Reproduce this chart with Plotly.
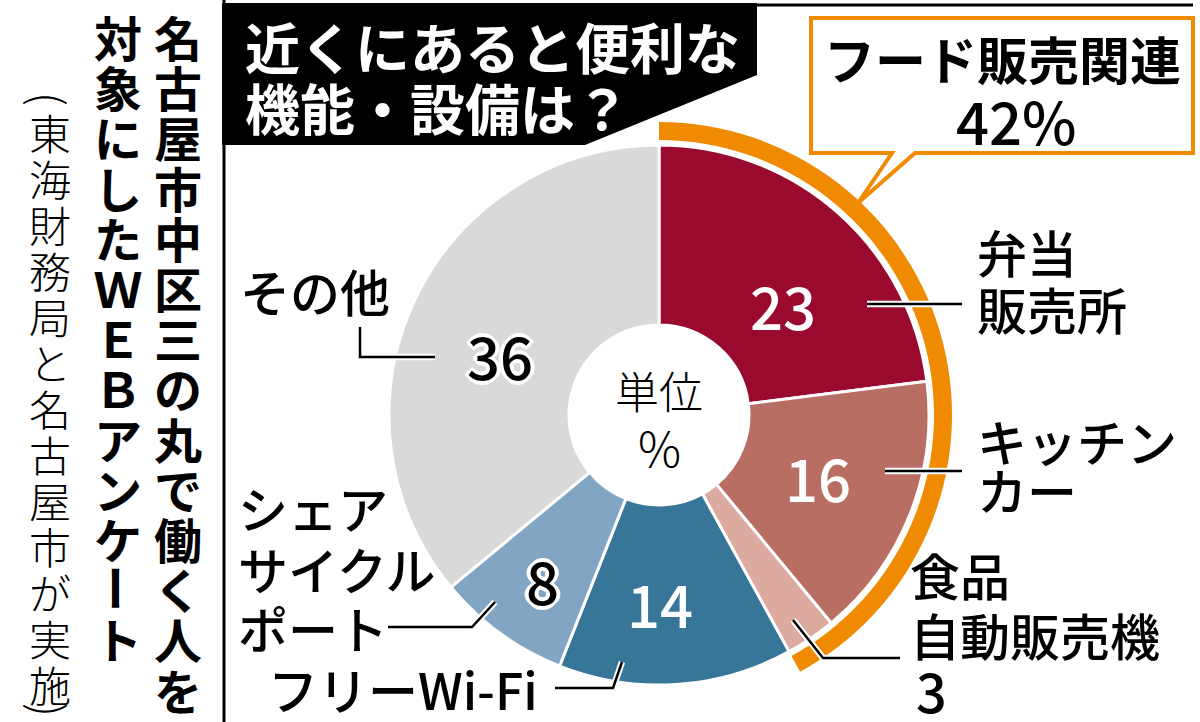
import plotly.graph_objects as go

# ---------------- data ----------------
categories = ["弁当販売所", "キッチンカー", "食品自動販売機", "フリーWi-Fi", "シェアサイクルポート", "その他"]
values = [23, 16, 3, 14, 8, 36]
colors = ["#9a0a2f", "#b86e63", "#dcaa9e", "#377599", "#81a5c2", "#d9d9d9"]
food_idx = [0, 1, 2]
food_label = "フード販売関連"
title_lines = ["近くにあると便利な", "機能・設備は？"]
unit_lines = ["単位", "%"]
note_col1 = "名古屋市中区三の丸で働く人を"
note_col2 = "対象にしたＷＥＢアンケート"
note_col3 = "(東海財務局と名古屋市が実施)"

food_total = sum(values[i] for i in food_idx)

W, H = 1200, 722
FONT = "Noto Sans CJK JP"
CX, CY, R = 659, 415, 270
R_HOLE = 90
R_O1, R_O2 = 275, 293

def dom(r):
    return dict(x=[(CX - r) / W, (CX + r) / W],
                y=[(H - CY - r) / H, (H - CY + r) / H])

fig = go.Figure()

# main donut
fig.add_trace(go.Pie(
    values=values, labels=categories, sort=False, direction="clockwise", rotation=0,
    hole=R_HOLE / R, domain=dom(R), textinfo="none", hoverinfo="label+value",
    marker=dict(colors=colors, line=dict(color="white", width=3)), showlegend=False,
))
# orange arc for food-related total
fig.add_trace(go.Pie(
    values=[food_total, sum(values) - food_total], labels=[food_label, ""], sort=False,
    direction="clockwise", rotation=0, hole=R_O1 / R_O2, domain=dom(R_O2), textinfo="none",
    hoverinfo="skip",
    marker=dict(colors=["#f08a00", "rgba(0,0,0,0)"], line=dict(width=0)), showlegend=False,
))

shapes = []
annotations = []

def ann(x, y, text, size, color="black", weight=400, xanchor="center", angle=0, shadow=None):
    f = dict(family=FONT, size=size, color=color, weight=weight)
    if shadow:
        f["shadow"] = shadow
    annotations.append(dict(x=x, y=y, xref="x", yref="y", text=text, showarrow=False,
                            xanchor=xanchor, yanchor="middle", font=f, textangle=angle))

def line(pts, width=2.5):
    path = "M " + " L ".join(f"{x},{y}" for x, y in pts)
    shapes.append(dict(type="path", path=path, xref="x", yref="y",
                       line=dict(color="white", width=width + 4), layer="above"))
    shapes.append(dict(type="path", path=path, xref="x", yref="y",
                       line=dict(color="black", width=width), layer="above"))

# frame
shapes.append(dict(type="line", x0=224, x1=224, y0=0, y1=H, xref="x", yref="y",
                   line=dict(color="black", width=3)))
shapes.append(dict(type="line", x0=224, x1=1193, y0=5, y1=5, xref="x", yref="y",
                   line=dict(color="black", width=3)))
# black title box
shapes.append(dict(type="path", path="M 222,3 L 757,3 L 757,75 L 585,145 L 222,145 Z",
                   xref="x", yref="y", fillcolor="black", line=dict(width=0)))
ann(243, 45, title_lines[0], 55, "white", 700, "left")
ann(243, 106, title_lines[1], 55, "white", 700, "left")

# callout box
shapes.append(dict(type="path",
                   path="M 892,153 L 811,153 L 811,18 L 1193,18 L 1193,153 L 915,153 L 858,203 Z",
                   xref="x", yref="y", fillcolor="white", line=dict(color="#f08a00", width=4)))
ann(1002, 58, food_label, 51, "black", 700)
ann(1016, 120, f"{food_total}%", 58, "black", 500)

# unit in hole
ann(CX, 390, unit_lines[0], 44, "black", 300)
ann(CX, 446, unit_lines[1], 48, "black", 300)

halo = ", ".join(f"white {dx}px {dy}px 0" for dx, dy in
                 [(3, 0), (-3, 0), (0, 3), (0, -3), (2, 2), (-2, -2), (2, -2), (-2, 2),
                  (4, 0), (-4, 0), (0, 4), (0, -4)])

# slice values
ann(783, 305, str(values[0]), 58, "white", 500)
ann(818, 477, str(values[1]), 58, "white", 500)
ann(660, 603, str(values[3]), 58, "white", 500)
ann(542, 580, str(values[4]), 58, "black", 500, shadow=halo)
ann(500, 355, str(values[5]), 58, "black", 500, shadow=halo)
ann(931, 689, str(values[2]), 54, "black", 500)

# category labels
ann(975, 251, "弁当", 50, "black", 500, "left")
ann(975, 308, "販売所", 50, "black", 500, "left")
ann(975, 440, "キッチン", 50, "black", 500, "left")
ann(975, 489, "カー", 50, "black", 500, "left")
ann(908, 574, "食品", 50, "black", 500, "left")
ann(908, 634, "自動販売機", 50, "black", 500, "left")
ann(540, 688, "フリーWi-Fi", 50, "black", 500, "right")
ann(236, 507, "シェア", 50, "black", 500, "left")
ann(236, 568, "サイクル", 50, "black", 500, "left")
ann(236, 627, "ポート", 50, "black", 500, "left")
ann(238, 290, "その他", 50, "black", 500, "left")

# leader lines
line([(867, 304), (962, 304)])
line([(885, 471), (962, 471)])
line([(793, 620), (823, 658), (900, 658)])
line([(622, 662), (613, 688), (555, 688)])
line([(495, 602), (472, 627), (388, 627)])
line([(360, 327), (360, 357), (435, 357)])

dots_x = [867, 885, 793, 622, 495, 435]
dots_y = [304, 471, 620, 662, 602, 357]
fig.add_trace(go.Scatter(x=dots_x, y=dots_y, mode="markers", hoverinfo="skip", showlegend=False,
                         marker=dict(size=13, color="black", line=dict(color="white", width=3))))

# vertical notes
def vcol(text, x, y0, step, size, weight):
    for i, ch in enumerate(text):
        ang = 90 if ch in "ー" else 0
        ann(x, y0 + i * step, ch, size, "black", weight, "center", ang)

vcol(note_col1, 178, 36, 50.2, 48, 700)
vcol(note_col2, 118, 36, 50.2, 48, 700)
vcol(note_col3[1:-1], 50, 131, 46, 42, 300)
ann(50, 99, note_col3[0], 44, "black", 300, "center", 90)
ann(50, 710, note_col3[-1], 44, "black", 300, "center", 90)

fig.update_layout(
    width=W, height=H, margin=dict(l=0, r=0, t=0, b=0),
    paper_bgcolor="white", plot_bgcolor="rgba(0,0,0,0)",
    xaxis=dict(range=[0, W], visible=False, fixedrange=True),
    yaxis=dict(range=[H, 0], visible=False, fixedrange=True),
    shapes=shapes, annotations=annotations, showlegend=False,
)
fig.write_html("out.html", config={"displayModeBar": False},
               post_script="document.body.style.margin='0';document.body.style.overflow='hidden';")
